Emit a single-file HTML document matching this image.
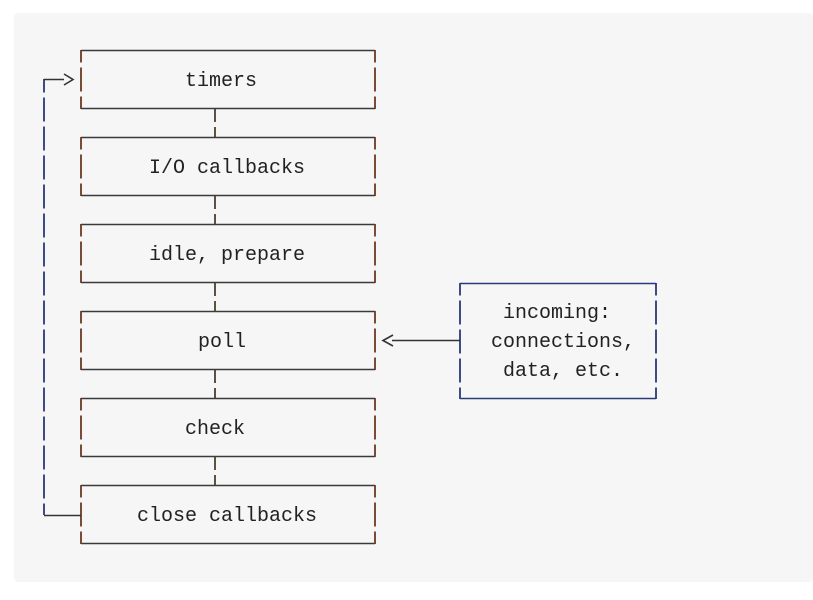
<!DOCTYPE html>
<html><head><meta charset="utf-8"><style>
html,body{margin:0;padding:0;background:#fff;width:813px;height:600px;overflow:hidden}
svg{display:block}
text{font-family:"Liberation Mono",monospace;font-size:20px;fill:#222}
</style></head><body>
<svg width="813" height="600" viewBox="0 0 813 600" xmlns="http://www.w3.org/2000/svg">
<rect x="14" y="13" width="799" height="569" rx="4" fill="#f6f6f6"/>
<g fill="none" stroke-width="1.6">
<g stroke="#3a3a3a">
<path d="M81 50.5H375 M81 108.5H375"/>
<path d="M81 137.5H375 M81 195.5H375"/>
<path d="M81 224.5H375 M81 282.5H375"/>
<path d="M81 311.5H375 M81 369.5H375"/>
<path d="M81 398.5H375 M81 456.5H375"/>
<path d="M81 485.5H375 M81 543.5H375"/>
</g>
<g stroke="#6a3a22" stroke-width="1.8" stroke-dasharray="12.5 5 24 5 13">
<path d="M81 50V109 M375 50V109"/>
<path d="M81 137V196 M375 137V196"/>
<path d="M81 224V283 M375 224V283"/>
<path d="M81 311V370 M375 311V370"/>
<path d="M81 398V457 M375 398V457"/>
<path d="M81 485V544 M375 485V544"/>
</g>
<g stroke="#4a4030" stroke-width="1.8" stroke-dasharray="13.5 5 11">
<path d="M215 108.5V137.5 M215 195.5V224.5 M215 282.5V311.5 M215 369.5V398.5 M215 456.5V485.5"/>
</g>
<g stroke="#2a3a7a">
<path d="M44 79V515" stroke-width="1.8" stroke-dasharray="13.5 5 24 5 24 5 24 5 24 5 24 5 24 5 24 5 24 5 24 5 24 5 24 5 24 5 24 5 24 5 24 5 25"/>
<path d="M44 79.5H64 M44 515.5H81" stroke="#333"/>
<path d="M64 74L73 79.5L64 85" stroke="#333"/>
<path d="M460 283.5H656 M460 398.5H656"/>
<path d="M460 283V399 M656 283V399" stroke-width="1.8" stroke-dasharray="12.5 5 24 5 24 5 24 5 13"/>
<path d="M392 340.5H460" stroke="#333"/>
<path d="M393 335L383 340.5L393 346" stroke="#333"/>
</g>
</g>
<text x="185" y="86">timers</text>
<text x="149" y="173">I/O callbacks</text>
<text x="149" y="260">idle, prepare</text>
<text x="198" y="347">poll</text>
<text x="185" y="434">check</text>
<text x="137" y="521">close callbacks</text>
<text x="503" y="318">incoming:</text>
<text x="491" y="347">connections,</text>
<text x="503" y="376">data, etc.</text>
</svg>
</body></html>
